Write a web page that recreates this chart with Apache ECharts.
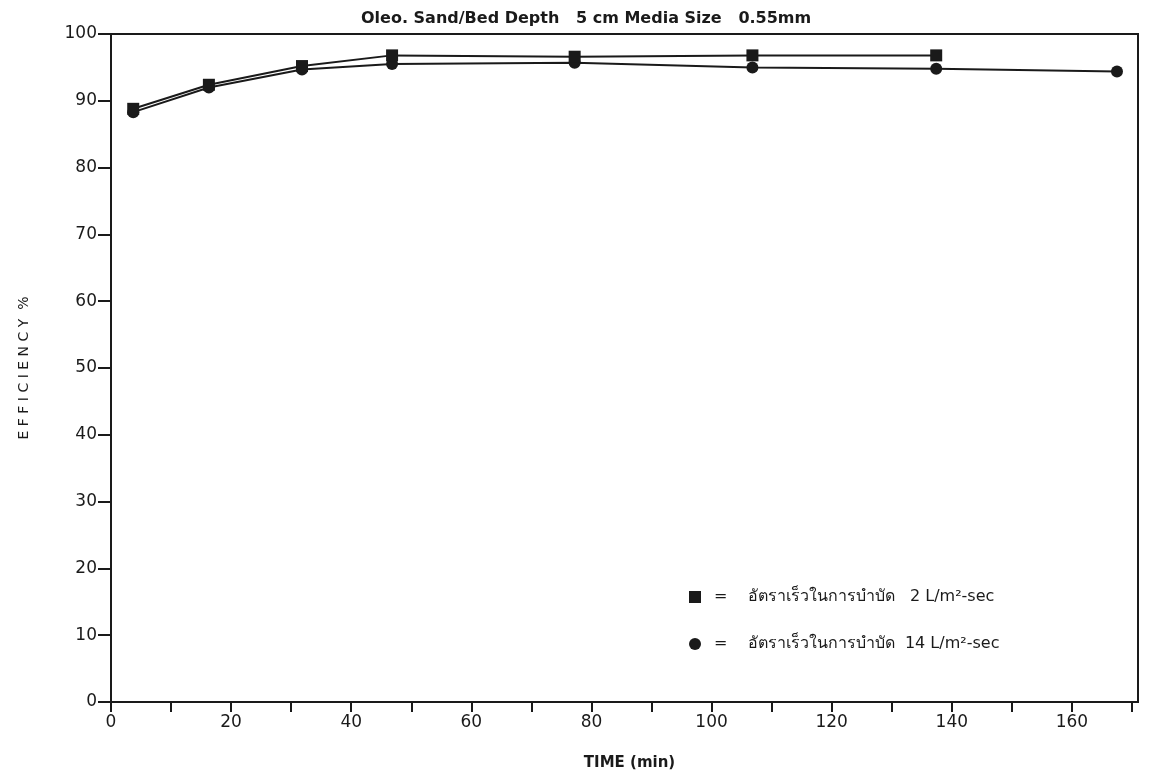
<!DOCTYPE html>
<html>
<head>
<meta charset="utf-8">
<script src="https://cdn.jsdelivr.net/npm/echarts@6/dist/echarts.min.js"></script>
<style>html,body{margin:0;padding:0;background:#fff;}#c{width:1154px;height:776px;}</style>
</head>
<body>
<div id="c"></div>
<script>
// Data
const timeRate2 = [3.7, 16.3, 31.8, 46.8, 77.2, 106.8, 137.4];
const effRate2  = [88.8, 92.4, 95.2, 96.8, 96.6, 96.8, 96.8];
const timeRate14 = [3.7, 16.3, 31.8, 46.8, 77.2, 106.8, 137.4, 167.5];
const effRate14  = [88.3, 92.0, 94.7, 95.5, 95.7, 95.0, 94.8, 94.4];
const titleText = "Oleo. Sand/Bed Depth   5 cm Media Size   0.55mm";
const xName = "TIME (min)";
const yName = "E F F I C I E N C Y  %";
const name2 = "=    อัตราเร็วในการบำบัด   2 L/m²-sec";
const name14 = "=    อัตราเร็วในการบำบัด  14 L/m²-sec";

const ink = '#1a1a1a';
const font = 'DejaVu Sans';
const pair = (xs, ys) => xs.map((x, i) => [x, ys[i]]);

const chart = echarts.init(document.getElementById('c'), null, {renderer: 'canvas'});
chart.setOption({
  backgroundColor: '#ffffff',
  animation: false,
  title: {
    text: titleText, left: 356, top: 6,
    textStyle: {fontFamily: font, fontSize: 16, fontWeight: 'bold', color: ink}
  },
  grid: {left: 111, top: 34, right: 16, bottom: 73, show: true, borderColor: ink, borderWidth: 2, backgroundColor: 'transparent'},
  legend: {
    orient: 'vertical', left: 684, top: 584, itemGap: 31, itemWidth: 12, itemHeight: 12,
    textStyle: {fontFamily: font, fontSize: 16, color: ink, padding: [0, 0, 0, 8]},
    data: [{name: name2, icon: 'rect'}, {name: name14, icon: 'circle'}]
  },
  xAxis: {
    type: 'value', min: 0, max: 171, interval: 10,
    name: xName, nameLocation: 'middle', nameGap: 54,
    nameTextStyle: {fontFamily: font, fontSize: 15, fontWeight: 'bold', color: ink, padding: [0, 0, 0, 10]},
    axisLine: {show: true, lineStyle: {color: ink, width: 2}},
    axisTick: {show: true, length: 10, lineStyle: {color: ink, width: 2}},
    axisLabel: {
      margin: 12, fontFamily: font, fontSize: 17, color: ink, showMaxLabel: false,
      formatter: v => (v % 20 === 0 ? String(v) : '')
    },
    splitLine: {show: false}
  },
  yAxis: {
    type: 'value', min: 0, max: 100, interval: 10,
    name: yName, nameLocation: 'middle', nameGap: 80, nameRotate: 90,
    nameTextStyle: {fontFamily: font, fontSize: 14, color: ink},
    axisLine: {show: true, lineStyle: {color: ink, width: 2}},
    axisTick: {show: true, length: 13, lineStyle: {color: ink, width: 2}},
    axisLabel: {margin: 14, fontFamily: font, fontSize: 17, color: ink},
    splitLine: {show: false}
  },
  series: [
    {
      name: name2, type: 'line', data: pair(timeRate2, effRate2),
      symbol: 'rect', symbolSize: 12,
      lineStyle: {color: ink, width: 2}, itemStyle: {color: ink}, z: 3
    },
    {
      name: name14, type: 'line', data: pair(timeRate14, effRate14),
      symbol: 'circle', symbolSize: 12,
      lineStyle: {color: ink, width: 2}, itemStyle: {color: ink}, z: 2
    }
  ]
});
</script>
</body>
</html>
